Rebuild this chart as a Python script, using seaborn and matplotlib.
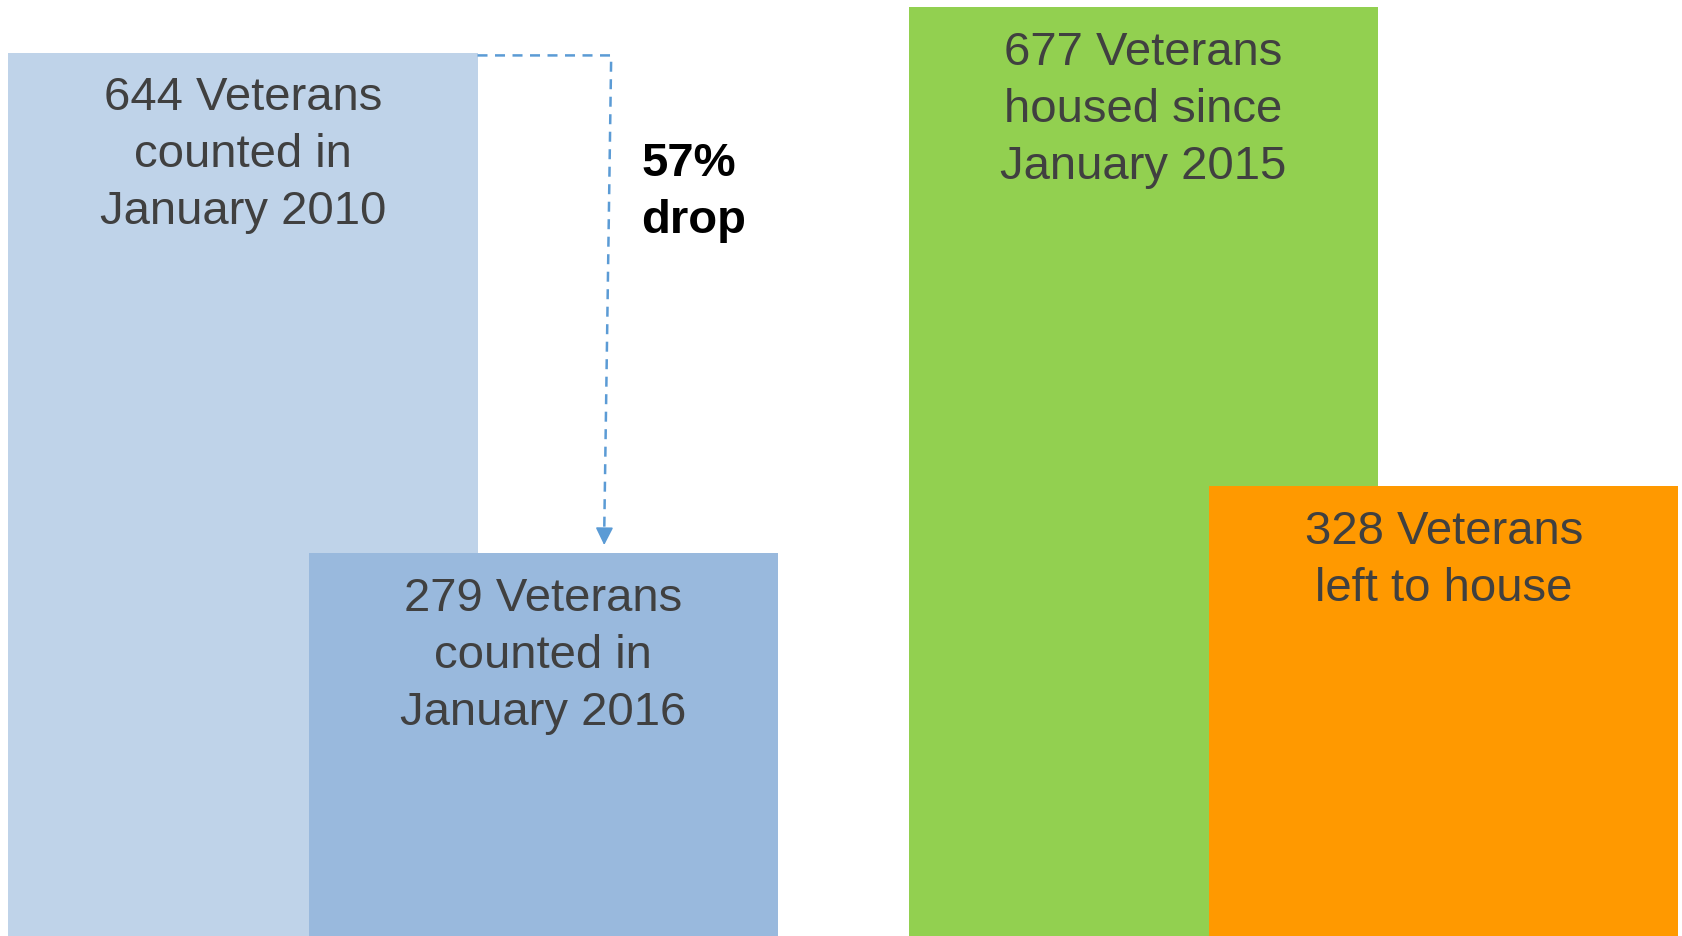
import numpy as np
import pandas as pd
import matplotlib
matplotlib.use("Agg")
import matplotlib.pyplot as plt
import seaborn as sns

# data
categories = ["Counted 2010", "Counted 2016", "Housed since 2015", "Left to house"]
veterans = [644, 279, 677, 328]
labels = [
    "644 Veterans\ncounted in\nJanuary 2010",
    "279 Veterans\ncounted in\nJanuary 2016",
    "677 Veterans\nhoused since\nJanuary 2015",
    "328 Veterans\nleft to house",
]
drop_label = "57%\ndrop"

# layout (bar width = 1 unit, bars overlap in pairs)
bar_pos = [0.0, 0.64, 1.92, 2.56]
colors = ["#BFD3E9", "#99B9DD", "#92D050", "#FF9900"]
text_color = "#404040"
arrow_color = "#5B9BD5"

sns.set_theme(style="white")
plt.rcParams["font.family"] = ["Liberation Sans", "DejaVu Sans"]

df = pd.DataFrame({"category": categories, "veterans": veterans, "pos": bar_pos})

fig = plt.figure(figsize=(16.83, 9.36), dpi=100)
ax = fig.add_axes([0, 0, 1, 1])
sns.barplot(
    data=df, x="pos", y="veterans", hue="category", hue_order=categories,
    palette=dict(zip(categories, colors)), native_scale=True, width=1 / 0.64,
    dodge=False, saturation=1, linewidth=0, edgecolor="none", legend=False, ax=ax,
)
ax.set_xlim(-0.518, 3.07)
ax.set_ylim(0, 682.4)
ax.axis("off")

for x, v, txt in zip(bar_pos, veterans, labels):
    ax.annotate(txt, xy=(x, v), xytext=(0, -17), textcoords="offset points",
                ha="center", va="top", fontsize=34, color=text_color,
                linespacing=1.38)

# dashed drop arrow from the 2010 bar down to the 2016 bar
x0 = bar_pos[0] + 0.5
xc_top, xc_bot = 0.785, 0.770
y_top = veterans[0] - 2
y_tip = veterans[1] + 4
ax.plot([x0, xc_top, xc_bot], [y_top, y_top, y_tip + 8], color=arrow_color,
        lw=1.8, ls=(0, (4, 3)), solid_capstyle="butt")
ax.annotate("", xy=(xc_bot, y_tip), xytext=(xc_bot + 0.0005, y_tip + 12),
            arrowprops=dict(arrowstyle="-|>,head_length=0.9,head_width=0.45",
                            color=arrow_color, lw=1.2))

ax.text(0.849, 579, drop_label, ha="left", va="top", fontsize=34,
        fontweight="bold", color="black", linespacing=1.38)

fig.savefig("out.png", dpi=100)
